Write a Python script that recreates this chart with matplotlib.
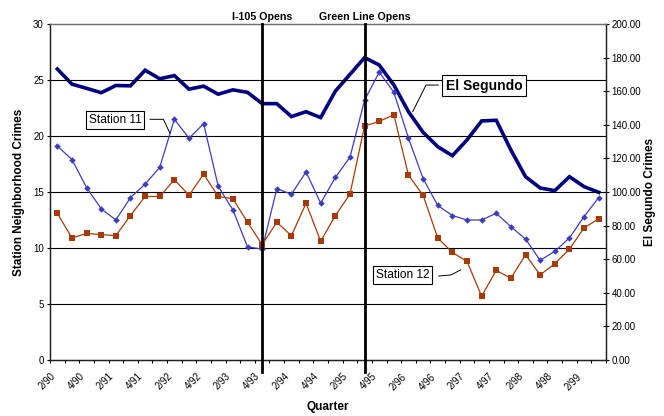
import matplotlib
matplotlib.use("Agg")
import matplotlib.pyplot as plt
from matplotlib.ticker import FixedLocator, NullFormatter

plt.rcParams['font.family'] = ['Liberation Sans', 'DejaVu Sans']

# Quarterly series, 2/90 through 3/99
quarters = ['2/90', '3/90', '4/90',
            '1/91', '2/91', '3/91', '4/91',
            '1/92', '2/92', '3/92', '4/92',
            '1/93', '2/93', '3/93', '4/93',
            '1/94', '2/94', '3/94', '4/94',
            '1/95', '2/95', '3/95', '4/95',
            '1/96', '2/96', '3/96', '4/96',
            '1/97', '2/97', '3/97', '4/97',
            '1/98', '2/98', '3/98', '4/98',
            '1/99', '2/99', '3/99']
tick_labels = quarters[::2]

station_11 = [19.1, 17.9, 15.4, 13.5, 12.5, 14.5, 15.7, 17.2, 21.5, 19.8,
              21.1, 15.5, 13.4, 10.1, 9.9, 15.3, 14.8, 16.8, 14.0, 16.3,
              18.1, 23.2, 25.7, 23.9, 19.8, 16.2, 13.8, 12.9, 12.5, 12.5,
              13.1, 11.9, 10.8, 8.9, 9.7, 10.9, 12.8, 14.5]
station_12 = [13.1, 10.9, 11.3, 11.2, 11.1, 12.9, 14.6, 14.6, 16.1, 14.7,
              16.6, 14.6, 14.4, 12.3, 10.3, 12.3, 11.1, 14.0, 10.6, 12.9,
              14.8, 20.9, 21.3, 21.9, 16.5, 14.7, 10.9, 9.6, 8.8, 5.7,
              8.0, 7.3, 9.4, 7.6, 8.6, 9.9, 11.8, 12.6]
el_segundo = [173.2, 164.2, 161.7, 159.1, 163.4, 163.2, 172.5, 167.4, 169.3, 161.2,
              163.0, 158.2, 160.8, 159.3, 152.6, 152.6, 144.9, 147.8, 144.3, 160.0,
              170.0, 180.0, 175.6, 163.7, 147.8, 135.5, 127.0, 121.6, 131.0, 142.3,
              142.7, 125.0, 109.1, 102.4, 100.8, 109.1, 103.2, 99.8]

events = {'I-105 Opens': '4/93', 'Green Line Opens': '3/95'}

x = list(range(len(quarters)))

fig = plt.figure(figsize=(6.64, 4.16), dpi=100)
ax = fig.add_axes([50 / 664, 56 / 416, 556 / 664, 336 / 416])
ax2 = ax.twinx()

# left axis: station neighbourhood crimes
ax.set_ylim(0, 30)
ax.set_xlim(-0.5, len(quarters) - 0.5)
ax.set_yticks(range(0, 31, 5))
ax.set_yticklabels([str(v) for v in range(0, 31, 5)], fontsize=7)
for v in range(5, 30, 5):
    ax.axhline(v, color='black', lw=0.8, zorder=1)

ax.plot(x, station_11, color='#3c3cbe', lw=0.9, marker='D', markersize=3.3,
        markeredgewidth=0, zorder=3)
ax.plot(x, station_12, color='#a83a08', lw=0.9, marker='s', markersize=4,
        markeredgewidth=0, zorder=3)

# right axis: El Segundo crimes
ax2.set_ylim(0, 200)
ax2.set_yticks(range(0, 201, 20))
ax2.set_yticklabels([f'{v:.2f}' for v in range(0, 201, 20)], fontsize=7)
ax2.plot(x, el_segundo, color='#000080', lw=2.6, solid_joinstyle='miter', zorder=3)

# category axis: labels every other quarter, ticks on every boundary
ax.xaxis.set_major_locator(FixedLocator([i - 0.5 for i in range(0, len(quarters), 2)]))
ax.set_xticklabels(tick_labels, fontsize=7)
ax.xaxis.set_minor_locator(FixedLocator([i - 0.5 for i in range(len(quarters) + 1)]))
ax.xaxis.set_minor_formatter(NullFormatter())
plt.setp(ax.get_xticklabels(), rotation=45, ha='right', va='top', rotation_mode='anchor')
ax.tick_params(axis='x', which='both', direction='out', length=2.2, width=0.8, pad=6.0)
ax.tick_params(axis='y', direction='out', length=2.4, width=0.8, pad=2)
ax2.tick_params(axis='y', direction='inout', length=4, width=0.8, pad=2)

for a in (ax, ax2):
    for side in ('left', 'right', 'bottom'):
        a.spines[side].set_color('#202020')
        a.spines[side].set_linewidth(0.9)
    a.spines['top'].set_color('#707070')
    a.spines['top'].set_linewidth(0.9)

# event markers
trans = ax.get_xaxis_transform()
for name, q in events.items():
    xi = quarters.index(q)
    ax.axvline(xi, ymin=-0.036, ymax=1, color='black', lw=2.0, clip_on=False, zorder=4)
    ax.text(xi, 1.022, name, transform=trans, ha='center', va='center',
            fontsize=7.7, fontweight='bold')

# series call-outs
box = dict(boxstyle='square,pad=0.25', facecolor='white', edgecolor='black', lw=0.8)
ax.text(3.95, 21.41, 'Station 11', fontsize=8.6, ha='center', va='center', bbox=box, zorder=6)
ax.plot([6.34, 7.25, 7.70], [21.49, 21.49, 20.24], color='black', lw=0.7, zorder=6)
ax.text(29.15, 24.49, 'El Segundo', fontsize=10, fontweight='bold', ha='center',
        va='center', bbox=box, zorder=6)
ax.plot([26.04, 25.2, 24.29], [24.55, 24.55, 22.17], color='black', lw=0.7, zorder=6)
ax.text(23.6, 7.62, 'Station 12', fontsize=8.6, ha='center', va='center', bbox=box, zorder=6)
ax.plot([26.07, 26.89, 27.57], [7.5, 7.59, 8.04], color='black', lw=0.7, zorder=6)

ax.set_ylabel('Station Neighborhood Crimes', fontsize=8.5, fontweight='bold', va='center')
ax.yaxis.set_label_coords(-0.0563, 0.5)
ax2.set_ylabel('El Segundo Crimes', fontsize=8.5, fontweight='bold', va='center', rotation=90)
ax2.yaxis.set_label_coords(1.079, 0.5)
ax.set_xlabel('Quarter', fontsize=8.5, fontweight='bold', va='center')
ax.xaxis.set_label_coords(0.5, -0.14)

ax.set_zorder(ax2.get_zorder() + 1)
ax.patch.set_visible(False)

fig.savefig('out.png', dpi=100)
